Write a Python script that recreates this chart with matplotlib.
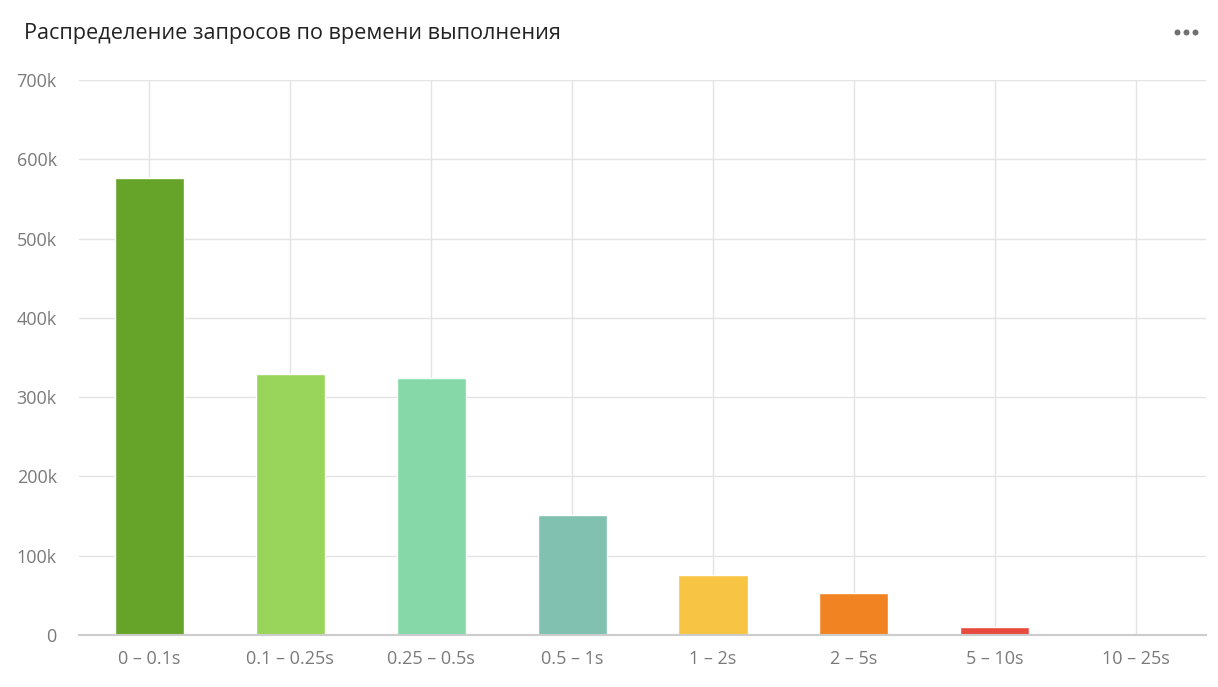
import matplotlib
matplotlib.use("Agg")
import matplotlib.pyplot as plt
from matplotlib.ticker import FuncFormatter
from matplotlib.lines import Line2D

plt.rcParams['font.family'] = ['Open Sans', 'DejaVu Sans']

categories = ["0 – 0.1s", "0.1 – 0.25s", "0.25 – 0.5s", "0.5 – 1s",
              "1 – 2s", "2 – 5s", "5 – 10s", "10 – 25s"]
values = [576000, 329000, 324000, 151500, 75700, 53000, 10000, 400]
colors = ["#65a428", "#9ad55b", "#86d8a8", "#80c1b0",
          "#f7c543", "#f28322", "#e84a3e", "#e84a3e"]
yticks = [0, 100000, 200000, 300000, 400000, 500000, 600000, 700000]
title = "Распределение запросов по времени выполнения"

fig = plt.figure(figsize=(12.18, 6.87), dpi=100)
ax = fig.add_axes([0.0649, 0.0757, 0.9253, 0.8079])

x = list(range(len(categories)))
ax.bar(x, values, width=0.49, color=colors, edgecolor="white",
       linewidth=1.0, zorder=3)

ax.set_xlim(-0.5, 7.5)
ax.set_ylim(0, 700000)
ax.set_yticks(yticks)
ax.yaxis.set_major_formatter(FuncFormatter(lambda v, p: "0" if v == 0 else f"{int(v/1000)}k"))
ax.set_xticks(x)
ax.set_xticklabels(categories)

ax.grid(True, axis="both", color="#e3e3e3", linewidth=1.0, zorder=0)
for s in ["top", "right", "left"]:
    ax.spines[s].set_visible(False)
ax.spines["bottom"].set_color("#cccccc")
ax.spines["bottom"].set_linewidth(1.5)
ax.spines["bottom"].set_zorder(4)

ax.tick_params(axis="y", length=0, pad=16, labelsize=13, labelcolor="#7a7a7a")
ax.tick_params(axis="x", length=0, pad=11, labelsize=13, labelcolor="#7a7a7a")

fig.text(24/1218, 1 - 33/687, title, fontsize=15.6, color="#222222",
         ha="left", va="center")
fig.add_artist(Line2D([1177/1218, 1186/1218, 1195/1218], [1 - 32/687] * 3,
                      marker="o", linestyle="none", markersize=4.3,
                      markeredgewidth=0, color="#707070",
                      transform=fig.transFigure))

fig.savefig("out.png", dpi=100, facecolor="white")
